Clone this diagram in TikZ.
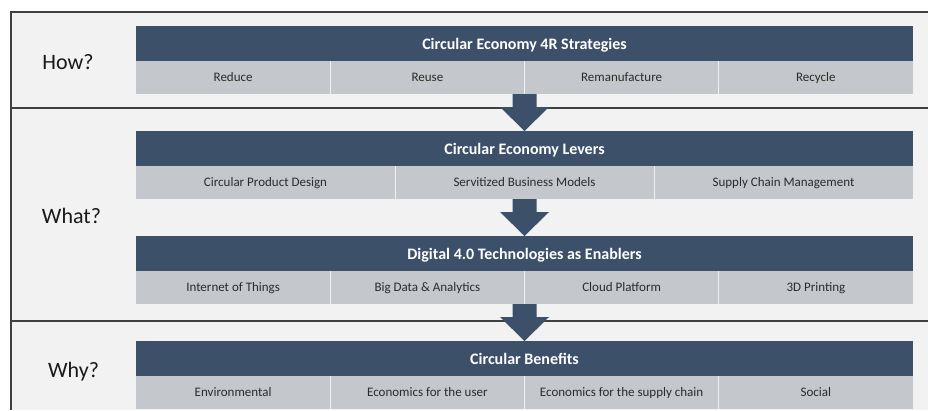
\documentclass[tikz,border=0pt]{standalone}
\usepackage{fontspec}
\setmainfont{Carlito}
\usetikzlibrary{positioning,calc}
\definecolor{headblue}{HTML}{3C5069}
\definecolor{rowgray}{HTML}{C4C7CB}
\definecolor{panelgray}{HTML}{F2F2F2}
\definecolor{framegray}{HTML}{404040}
\definecolor{celltext}{HTML}{2B2B2B}
\tikzset{
  header/.style={fill=headblue, text=white, font=\fontsize{16}{18}\selectfont\bfseries,
    text height=12.5pt, text depth=0pt,
    minimum width=777pt, minimum height=35pt, inner sep=0pt, outer sep=0pt},
  strip/.style={fill=rowgray, minimum width=777pt, minimum height=33pt, inner sep=0pt, outer sep=0pt},
  cell/.style={text=celltext, font=\fontsize{13}{15}\selectfont, text height=9pt, text depth=0.5pt, inner sep=0pt},
  question/.style={font=\fontsize{22}{26}\selectfont, text=black!90},
  divider/.style={draw=white!75!rowgray, line width=1pt},
  frameline/.style={draw=framegray, line width=1.2pt},
  blockarrow/.style={fill=headblue}
}
\newcommand{\flowarrow}[2]{%
  \fill[blockarrow] ($(#1.south)+(-12,0)$) -- ($(#2.north)+(-12,-24)$) -- ($(#2.north)+(-24.5,-24)$)
    -- (#2.north) -- ($(#2.north)+(24.5,-24)$) -- ($(#2.north)+(12,-24)$) -- ($(#1.south)+(12,0)$) -- cycle;}

\begin{document}
\begin{tikzpicture}[x=1pt,y=-1pt]
\useasboundingbox (0,0) rectangle (928,410);
% panel and frame
\fill[panelgray] (11,12) rectangle (928,410);
\draw[frameline] (928,12) -- (11,12) -- (11,410);
\draw[frameline] (11,108) -- (928,108);
\draw[frameline] (11,321) -- (928,321);

% questions
\node[question] (how) at (68,62) {How?};
\node[question] (what) at (71.5,216) {What?};
\node[question] (why) at (73.5,372) {Why?};

% blocks
\node[header] (h1) at (524.5,43.5) {Circular Economy 4R Strategies};
\node[strip, below=0pt of h1] (r1) {};
\node[header, below=37pt of r1] (h2) {Circular Economy Levers};
\node[strip, below=0pt of h2] (r2) {};
\node[header, below=37pt of r2] (h3) {Digital 4.0 Technologies as Enablers};
\node[strip, below=0pt of h3] (r3) {};
\node[header, below=37pt of r3] (h4) {Circular Benefits};
\node[strip, below=0pt of h4] (r4) {};

% cells
\foreach \t [count=\i] in {Reduce,Reuse,Remanufacture,Recycle} {
  \pgfmathsetmacro\f{(\i-0.5)/4}
  \node[cell] (r1c\i) at ($(r1.west)!\f!(r1.east)$) {\t};
}
\foreach \t [count=\i] in {Circular Product Design,Servitized Business Models,Supply Chain Management} {
  \pgfmathsetmacro\f{(\i-0.5)/3}
  \node[cell] (r2c\i) at ($(r2.west)!\f!(r2.east)$) {\t};
}
\foreach \t [count=\i] in {Internet of Things,Big Data \& Analytics,Cloud Platform,3D Printing} {
  \pgfmathsetmacro\f{(\i-0.5)/4}
  \node[cell] (r3c\i) at ($(r3.west)!\f!(r3.east)$) {\t};
}
\foreach \t [count=\i] in {Environmental,Economics for the user,Economics for the supply chain,Social} {
  \pgfmathsetmacro\f{(\i-0.5)/4}
  \node[cell] (r4c\i) at ($(r4.west)!\f!(r4.east)$) {\t};
}

% dividers
\foreach \r/\n in {r1/4,r2/3,r3/4,r4/4} {
  \pgfmathtruncatemacro\m{\n-1}
  \foreach \i in {1,...,\m} {
    \pgfmathsetmacro\f{\i/\n}
    \draw[divider] ($(\r.north west)!\f!(\r.north east)$) -- ($(\r.south west)!\f!(\r.south east)$);
  }
}

% arrows
\flowarrow{r1}{h2}
\flowarrow{r2}{h3}
\flowarrow{r3}{h4}
\end{tikzpicture}
\end{document}
